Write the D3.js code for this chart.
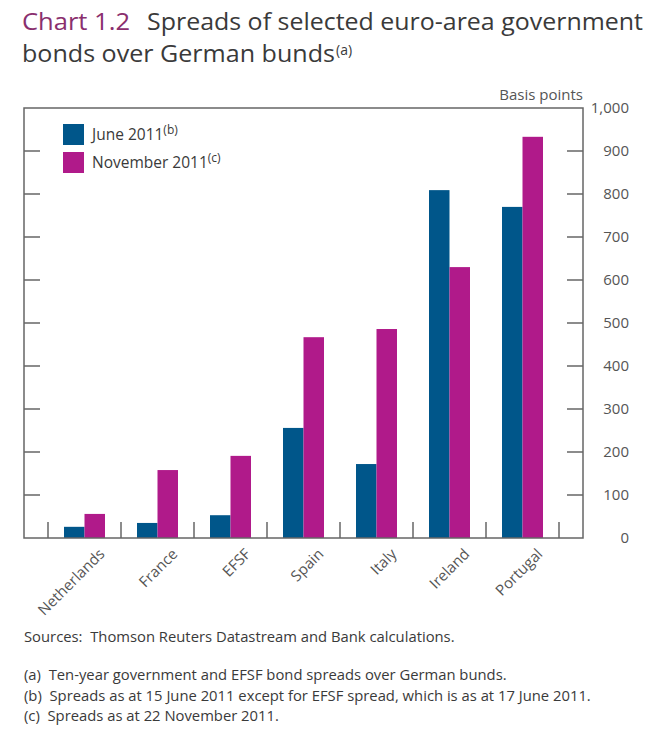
<!DOCTYPE html>
<html>
<head>
<meta charset="utf-8">
<script src="https://cdn.jsdelivr.net/npm/d3@7"></script>
<style>
  body { margin: 0; background: #fff; }
  text { font-family: "Open Sans", sans-serif; fill: #3a3a3a; }
  .axis text { font-size: 15px; fill: #555; }
  .title { font-size: 23px; }
</style>
</head>
<body>
<div id="chart"></div>
<script>
// chart data, in basis points
var countries = ["Netherlands", "France", "EFSF", "Spain", "Italy", "Ireland", "Portugal"];
var june2011 = [26, 35, 53, 256, 172, 809, 770];
var nov2011 = [56, 158, 191, 467, 486, 630, 933];
var seriesNames = ["June 2011", "November 2011"];
var seriesNotes = ["(b)", "(c)"];
var yTicks = [0, 100, 200, 300, 400, 500, 600, 700, 800, 900, 1000];
var footnotes = [
  "(a)\u00a0 Ten-year government and EFSF bond spreads over German bunds.",
  "(b)\u00a0 Spreads as at 15 June 2011 except for EFSF spread, which is as at 17 June 2011.",
  "(c)\u00a0 Spreads as at 22 November 2011."
];

var blue = "#00568a",
    magenta = "#b01a8a",
    frameCol = "#666";

var width = 650, height = 751;
var frame = {left: 24, top: 108, right: 583, bottom: 538};

var svg = d3.select("#chart").append("svg")
    .attr("width", width)
    .attr("height", height);

// title, two lines; stretched a little to the width of the original
svg.append("text")
    .attr("class", "title")
    .attr("x", 22)
    .attr("y", 30)
    .attr("textLength", 108)
    .attr("lengthAdjust", "spacingAndGlyphs")
    .style("fill", "#8a2f6e")
    .text("Chart 1.2");

svg.append("text")
    .attr("class", "title")
    .attr("x", 147)
    .attr("y", 30)
    .attr("textLength", 496)
    .attr("lengthAdjust", "spacingAndGlyphs")
    .text("Spreads of selected euro-area government");

svg.append("text")
    .attr("class", "title")
    .attr("x", 22)
    .attr("y", 62)
    .attr("textLength", 313)
    .attr("lengthAdjust", "spacingAndGlyphs")
    .text("bonds over German bunds");

svg.append("text")
    .attr("x", 336)
    .attr("y", 55)
    .style("font-size", "14px")
    .text("(a)");

// scales
var x = d3.scaleBand()
    .domain(countries)
    .range([frame.left + 24, frame.right - 24]);

var y = d3.scaleLinear()
    .domain([0, 1000])
    .range([frame.bottom, frame.top]);

var pairWidth = 41;
var xSub = d3.scaleBand()
    .domain([0, 1])
    .range([0, pairWidth]);

// bars
var series = [june2011, nov2011];
var colours = [blue, magenta];

series.forEach(function(vals, s){
  svg.append("g").selectAll("rect")
      .data(vals)
      .enter().append("rect")
      .attr("x", (d, i) => x(countries[i]) + (x.bandwidth() - pairWidth) / 2 + xSub(s))
      .attr("y", d => y(d))
      .attr("width", xSub.bandwidth())
      .attr("height", d => y(0) - y(d))
      .attr("fill", colours[s]);
});

// frame box
svg.append("rect")
    .attr("x", frame.left)
    .attr("y", frame.top)
    .attr("width", frame.right - frame.left)
    .attr("height", frame.bottom - frame.top)
    .attr("fill", "none")
    .attr("stroke", frameCol)
    .attr("stroke-width", 1.5);

// right axis labels
var yAxis = d3.axisRight(y)
    .tickValues(yTicks)
    .tickSize(0)
    .tickPadding(0)
    .tickFormat(d3.format(","));

var gy = svg.append("g")
    .attr("class", "axis")
    .attr("transform", "translate(" + frame.right + ",0)")
    .call(yAxis);
gy.select(".domain").remove();
gy.selectAll("text")
    .attr("x", 46)
    .attr("text-anchor", "end");

// inward ticks on both sides, skipping 0 and 1000
var innerTicks = yTicks.filter(d => d > 0 && d < 1000);
[[frame.left, 1], [frame.right, -1]].forEach(function(side){
  svg.append("g").selectAll("line")
      .data(innerTicks)
      .enter().append("line")
      .attr("x1", side[0])
      .attr("x2", side[0] + side[1] * 16)
      .attr("y1", d => y(d))
      .attr("y2", d => y(d))
      .attr("stroke", frameCol)
      .attr("stroke-width", 1.5);
});

// category separator ticks on the baseline
var sepPos = countries.map(c => x(c)).concat([x(countries[countries.length - 1]) + x.bandwidth()]);
svg.append("g").selectAll("line")
    .data(sepPos)
    .enter().append("line")
    .attr("x1", d => d)
    .attr("x2", d => d)
    .attr("y1", frame.bottom)
    .attr("y2", frame.bottom - 16)
    .attr("stroke", frameCol)
    .attr("stroke-width", 1.5);

// rotated category labels
svg.append("g").selectAll("text")
    .data(countries)
    .enter().append("text")
    .attr("text-anchor", "end")
    .style("font-size", "15px")
    .style("fill", "#555")
    .attr("transform", d => "translate(" + (x(d) + x.bandwidth() / 2 + 21) + "," + (frame.bottom + 17) + ") rotate(-45)")
    .text(d => d);

// units label
svg.append("text")
    .attr("x", frame.right)
    .attr("y", 100)
    .attr("text-anchor", "end")
    .style("font-size", "15px")
    .style("fill", "#555")
    .text("Basis points");

// legend
var legend = svg.append("g")
    .attr("transform", "translate(63,124)");

seriesNames.forEach(function(name, i){
  var row = legend.append("g").attr("transform", "translate(0," + (i * 28) + ")");
  row.append("rect")
      .attr("width", 21)
      .attr("height", 21)
      .attr("fill", colours[i]);
  var lt = row.append("text")
      .attr("x", 29)
      .attr("y", 16)
      .style("font-size", "15.5px")
      .text(name);
  lt.append("tspan").attr("dy", -6).style("font-size", "12px").text(seriesNotes[i]);
});

// sources and footnotes
svg.append("text")
    .attr("x", 24)
    .attr("y", 642)
    .style("font-size", "14.8px")
    .text("Sources:\u00a0 Thomson Reuters Datastream and Bank calculations.");

svg.append("g").selectAll("text")
    .data(footnotes)
    .enter().append("text")
    .attr("x", 24)
    .attr("y", (d, i) => 680 + i * 20.5)
    .style("font-size", "14.8px")
    .text(d => d);
</script>
</body>
</html>
